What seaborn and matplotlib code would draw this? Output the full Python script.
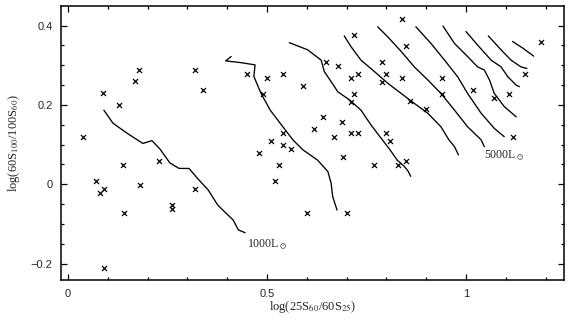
import numpy as np
import pandas as pd
import matplotlib
matplotlib.use("Agg")
import matplotlib.pyplot as plt
import seaborn as sns
from matplotlib.ticker import MultipleLocator

# data points (log(25S60/60S25), log(60S100/100S60))
pts_x = [0.038, 0.088, 0.128, 0.168, 0.178, 0.319, 0.340, 0.138, 0.229, 0.070,
         0.080, 0.090, 0.180, 0.320, 0.140, 0.261, 0.261, 0.090, 0.450, 0.500,
         0.540, 0.590, 0.490, 0.649, 0.678, 0.719, 0.710, 0.729, 0.719, 0.710,
         0.789, 0.799, 0.789, 0.640, 0.619, 0.689, 0.541, 0.669, 0.710, 0.729,
         0.799, 0.510, 0.809, 0.539, 0.560, 0.480, 0.530, 0.521, 0.600, 0.700,
         0.690, 0.770, 0.830, 0.839, 0.848, 0.839, 0.939, 0.939, 0.860, 0.900,
         1.018, 1.070, 1.107, 1.148, 1.188, 1.118, 0.850]
pts_y = [0.119, 0.230, 0.199, 0.260, 0.289, 0.289, 0.238, 0.049, 0.059, 0.009,
         -0.021, -0.011, -0.001, -0.011, -0.072, -0.051, -0.062, -0.210, 0.279, 0.269,
         0.279, 0.249, 0.228, 0.308, 0.298, 0.377, 0.269, 0.279, 0.228, 0.208,
         0.308, 0.279, 0.259, 0.169, 0.139, 0.158, 0.129, 0.118, 0.129, 0.129,
         0.129, 0.108, 0.108, 0.098, 0.088, 0.078, 0.049, 0.008, -0.072, -0.072,
         0.068, 0.049, 0.049, 0.417, 0.348, 0.268, 0.268, 0.228, 0.210, 0.189,
         0.238, 0.218, 0.228, 0.278, 0.358, 0.118, 0.058]

# luminosity contours
c1_x = [0.090, 0.113, 0.148, 0.188, 0.211, 0.231, 0.256, 0.279, 0.304, 0.327,
        0.352, 0.376, 0.393, 0.415, 0.428, 0.445]
c1_y = [0.187, 0.154, 0.129, 0.103, 0.110, 0.089, 0.054, 0.040, 0.040, 0.013,
        -0.014, -0.052, -0.069, -0.090, -0.115, -0.122]
c2_x = [0.410, 0.396, 0.432, 0.470, 0.467, 0.477, 0.485, 0.508, 0.533, 0.565,
        0.590, 0.627, 0.653, 0.661, 0.665, 0.676]
c2_y = [0.322, 0.311, 0.307, 0.301, 0.272, 0.248, 0.229, 0.187, 0.154, 0.112,
        0.087, 0.061, 0.032, 0.003, -0.031, -0.065]
c3_x = [0.556, 0.602, 0.636, 0.644, 0.661, 0.678, 0.707, 0.736, 0.761, 0.786,
        0.809, 0.827, 0.844, 0.854, 0.861]
c3_y = [0.357, 0.339, 0.313, 0.284, 0.259, 0.233, 0.213, 0.187, 0.150, 0.117,
        0.087, 0.061, 0.046, 0.034, 0.020]
c4_x = [0.694, 0.711, 0.736, 0.770, 0.803, 0.837, 0.870, 0.904, 0.937, 0.957,
        0.971, 0.981]
c4_y = [0.374, 0.347, 0.313, 0.284, 0.255, 0.229, 0.204, 0.179, 0.145, 0.112,
        0.095, 0.074]
c5_x = [0.778, 0.803, 0.837, 0.870, 0.904, 0.937, 0.971, 1.004, 1.038, 1.046]
c5_y = [0.397, 0.372, 0.335, 0.296, 0.263, 0.229, 0.187, 0.145, 0.112, 0.095]
c6_x = [0.874, 0.912, 0.946, 0.979, 1.004, 1.038, 1.071, 1.096]
c6_y = [0.397, 0.355, 0.313, 0.271, 0.229, 0.179, 0.141, 0.120]
c7_x = [0.942, 0.971, 1.004, 1.029, 1.046, 1.059, 1.071, 1.096, 1.126]
c7_y = [0.399, 0.355, 0.322, 0.296, 0.288, 0.263, 0.229, 0.196, 0.170]
c8_x = [1.000, 1.029, 1.063, 1.088, 1.105, 1.126, 1.134]
c8_y = [0.385, 0.351, 0.313, 0.296, 0.271, 0.250, 0.246]
c9_x = [1.056, 1.088, 1.113, 1.138, 1.153]
c9_y = [0.374, 0.339, 0.313, 0.296, 0.292]
c10_x = [1.117, 1.143, 1.170]
c10_y = [0.360, 0.343, 0.323]

contours = [(c1_x, c1_y), (c2_x, c2_y), (c3_x, c3_y), (c4_x, c4_y), (c5_x, c5_y),
            (c6_x, c6_y), (c7_x, c7_y), (c8_x, c8_y), (c9_x, c9_y), (c10_x, c10_y)]

sns.set_style("ticks")
plt.rcParams['font.family'] = ['Liberation Sans', 'DejaVu Sans']
plt.rcParams['mathtext.fontset'] = 'stix'

fig = plt.figure(figsize=(5.7, 3.22), dpi=100)
ax = fig.add_axes([0.107, 0.1295, 0.882, 0.852])

for cx, cy in contours:
    sns.lineplot(x=cx, y=cy, sort=False, estimator=None, color='black',
                 linewidth=0.95, ax=ax)

sns.scatterplot(x=pts_x, y=pts_y, marker='x', color='black', s=13,
                linewidth=0.9, ax=ax)

ax.text(0.450, -0.153, r'1000L$_\odot$', family='Liberation Serif', fontsize=8.5,
        va='center', ha='left')
ax.text(1.044, 0.071, r'5000L$_\odot$', family='Liberation Serif', fontsize=8.5,
        va='center', ha='left')

ax.set_xlim(-0.0176, 1.2455)
ax.set_ylim(-0.242, 0.4495)
ax.xaxis.set_major_locator(MultipleLocator(0.5))
ax.xaxis.set_minor_locator(MultipleLocator(0.1))
ax.yaxis.set_major_locator(MultipleLocator(0.2))
ax.yaxis.set_minor_locator(MultipleLocator(0.05))
ax.set_xticks([0, 0.5, 1])
ax.set_xticklabels(['0', '0.5', '1'])
ax.set_yticks([-0.2, 0, 0.2, 0.4])
ax.set_yticklabels(['\u22120.2', '0', '0.2', '0.4'])
ax.tick_params(which='both', direction='in', top=True, right=True, labelsize=8,
               width=0.9, color='black')
ax.tick_params(which='major', length=4.5, pad=6)
ax.tick_params(which='minor', length=2.5)
for sp in ax.spines.values():
    sp.set_linewidth(1.1)
    sp.set_color('black')

ax.set_xlabel(r'log(25S$_{60}$/60S$_{25}$)', family='Liberation Serif', fontsize=9,
              labelpad=0)
ax.set_ylabel(r'log(60S$_{100}$/100S$_{60}$)', family='Liberation Serif', fontsize=9,
              labelpad=6)

fig.savefig('out.png', dpi=100)
